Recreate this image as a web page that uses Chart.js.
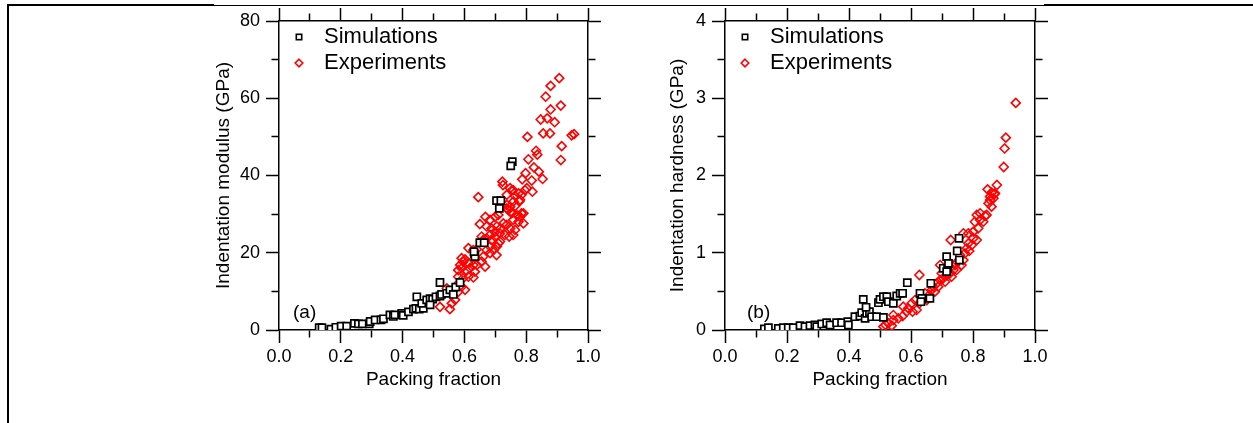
<!DOCTYPE html>
<html lang="en">
<head>
    <meta charset="UTF-8">
    <title>Indentation modulus and hardness vs packing fraction</title>
    <script src="https://cdn.jsdelivr.net/npm/chart.js"></script>
    <style>
        body { margin: 0; background: #fff; width: 1253px; height: 423px; overflow: hidden; position: relative; }
        .line { position: absolute; background: #000; }
        canvas { position: absolute; top: 0; }
        #chartA { left: 200px; }
        #chartB { left: 646px; }
    </style>
</head>
<body>
    <div class="line" style="left:7px; top:4px; width:2px; height:419px;"></div>
    <div class="line" style="left:7px; top:4px; width:207px; height:2px;"></div>
    <div class="line" style="left:214px; top:5px; width:830px; height:1px;"></div>
    <div class="line" style="left:1044px; top:4px; width:209px; height:2px;"></div>

    <canvas id="chartA" width="420" height="400"></canvas>
    <canvas id="chartB" width="420" height="400"></canvas>

    <script>
        // packing fraction / indentation modulus (GPa)
        const modulusSimulations = [
            [0.130,0.6],[0.139,0.6],[0.168,0.2],[0.184,0.7],[0.201,1.0],[0.219,1.0],[0.244,1.7],[0.257,1.6],
            [0.270,1.6],[0.292,1.6],[0.295,2.2],[0.311,2.6],[0.330,2.6],[0.338,2.9],[0.359,3.9],[0.370,3.5],
            [0.375,3.9],[0.397,4.3],[0.402,3.8],[0.419,4.7],[0.435,5.4],[0.443,5.6],[0.454,5.4],[0.467,5.6],
            [0.446,8.6],[0.462,6.9],[0.478,7.8],[0.489,8.1],[0.497,8.0],[0.508,8.6],[0.489,6.5],[0.521,8.8],
            [0.526,9.2],[0.543,9.5],[0.553,10.4],[0.564,9.2],[0.572,11.1],[0.586,12.3],[0.521,12.3],
            [0.632,19.7],[0.634,19.0],[0.631,20.3],[0.650,22.6],[0.664,22.6],[0.704,33.5],[0.718,33.5],
            [0.713,31.5],[0.755,43.6],[0.750,42.5]
        ];
        const modulusExperiments = [
            [0.907,65.2],[0.879,63.2],[0.863,60.4],[0.912,58.1],[0.879,57.1],[0.847,54.5],[0.868,54.8],[0.892,53.8],
            [0.804,50.0],[0.855,50.9],[0.877,50.9],[0.947,50.4],[0.955,50.7],[0.915,47.6],[0.912,44.0],[0.832,46.4],
            [0.836,45.4],[0.807,44.2],[0.825,42.1],[0.841,41.0],[0.798,40.6],[0.853,39.1],[0.787,39.0],[0.818,38.7],
            [0.802,36.7],[0.820,35.8],[0.723,38.4],[0.725,37.5],[0.748,36.7],[0.753,36.1],[0.737,35.0],[0.764,34.7],
            [0.785,35.0],[0.645,34.4],[0.759,33.3],[0.778,33.3],[0.737,32.4],[0.764,32.1],[0.748,31.9],[0.796,36.2],
            [0.780,33.7],[0.775,35.4],[0.758,36.2],[0.742,31.1],[0.753,30.2],[0.769,29.8],[0.780,29.3],[0.791,30.2],
            [0.758,28.5],[0.775,28.0],[0.791,27.6],[0.737,27.2],[0.748,26.3],[0.764,25.9],[0.758,24.6],[0.699,25.4],
            [0.715,25.0],[0.731,24.6],[0.672,26.8],[0.688,26.3],[0.705,26.8],[0.717,26.3],[0.726,27.6],[0.668,29.3],
            [0.683,28.5],[0.699,29.3],[0.710,29.8],[0.650,27.4],[0.656,24.2],[0.672,23.7],[0.688,23.3],[0.683,24.6],
            [0.699,24.2],[0.672,20.7],[0.683,19.9],[0.694,20.7],[0.705,21.6],[0.710,22.4],[0.661,19.0],[0.656,17.7],
            [0.737,31.5],[0.753,30.6],[0.785,30.2],[0.745,24.2],[0.715,22.9],[0.661,23.3],[0.704,19.4],[0.640,16.8],
            [0.667,16.4],[0.683,21.6],[0.613,21.2],[0.629,20.7],[0.640,20.9],[0.591,18.6],[0.602,18.3],[0.586,16.8],
            [0.596,17.7],[0.613,17.3],[0.629,16.8],[0.580,15.5],[0.591,16.0],[0.607,15.4],[0.618,16.0],[0.634,15.1],
            [0.580,13.8],[0.596,13.4],[0.613,13.8],[0.629,13.6],[0.575,11.6],[0.591,11.2],[0.602,10.4],[0.564,10.4],
            [0.580,9.9],[0.543,10.8],[0.570,7.8],[0.559,6.9],[0.553,5.4],[0.521,6.0]
        ];

        // packing fraction / indentation hardness (GPa)
        const hardnessSimulations = [
            [0.127,0.013],[0.140,0.030],[0.172,0.020],[0.188,0.030],[0.204,0.030],[0.220,0.030],[0.242,0.056],
            [0.258,0.043],[0.274,0.056],[0.290,0.065],[0.296,0.043],[0.312,0.078],[0.328,0.094],[0.339,0.065],
            [0.360,0.094],[0.376,0.094],[0.396,0.107],[0.398,0.065],[0.419,0.172],[0.435,0.181],[0.441,0.224],
            [0.452,0.151],[0.457,0.216],[0.466,0.237],[0.473,0.172],[0.489,0.172],[0.511,0.164],[0.446,0.397],
            [0.455,0.294],[0.495,0.353],[0.500,0.397],[0.511,0.431],[0.522,0.431],[0.527,0.366],[0.543,0.346],
            [0.554,0.440],[0.565,0.475],[0.573,0.475],[0.588,0.612],[0.629,0.475],[0.635,0.410],[0.632,0.366],
            [0.661,0.410],[0.664,0.605],[0.704,0.799],[0.718,0.799],[0.715,0.949],[0.721,0.863],[0.715,0.755],
            [0.749,1.023],[0.756,0.906],[0.755,1.187]
        ];
        const hardnessExperiments = [
            [0.511,0.043],[0.518,0.065],[0.527,0.087],[0.543,0.129],[0.538,0.056],[0.543,0.194],[0.559,0.151],
            [0.573,0.181],[0.575,0.302],[0.586,0.237],[0.591,0.281],[0.602,0.346],[0.605,0.237],[0.618,0.259],
            [0.613,0.388],[0.627,0.346],[0.627,0.712],[0.634,0.431],[0.645,0.475],[0.651,0.388],[0.659,0.453],
            [0.667,0.518],[0.677,0.496],[0.672,0.561],[0.683,0.605],[0.688,0.561],[0.694,0.647],[0.694,0.841],
            [0.699,0.734],[0.704,0.669],[0.710,0.625],[0.715,0.712],[0.726,0.734],[0.731,0.690],[0.737,0.777],
            [0.742,0.841],[0.747,0.777],[0.749,0.884],[0.763,0.841],[0.769,0.906],[0.758,0.971],[0.774,0.993],
            [0.788,1.023],[0.780,1.058],[0.796,1.100],[0.785,1.122],[0.801,1.187],[0.812,1.165],[0.769,1.252],
            [0.785,1.252],[0.801,1.273],[0.817,1.317],[0.728,1.165],[0.806,1.402],[0.823,1.424],[0.833,1.402],
            [0.839,1.476],[0.812,1.489],[0.823,1.511],[0.844,1.489],[0.850,1.640],[0.860,1.597],[0.855,1.683],
            [0.866,1.705],[0.871,1.770],[0.860,1.778],[0.847,1.821],[0.877,1.877],[0.869,1.760],[0.855,1.726],
            [0.899,2.110],[0.902,2.350],[0.906,2.490],[0.938,2.940]
        ];

        const legendLabels = ['Simulations', 'Experiments'];
        const xTitle = 'Packing fraction';

        const FONT = '"Liberation Sans", Arial, Helvetica, sans-serif';

        // draws the in-plot legend and the panel tag, e.g. "(a)"
        const panelDecor = {
            id: 'panelDecor',
            afterDraw(chart, args, opts) {
                const { ctx, chartArea } = chart;
                ctx.save();
                const mx = chartArea.left + 20;
                const tx = chartArea.left + 45;
                const ys = [chartArea.top + 16, chartArea.top + 42];
                ctx.lineWidth = 1.6;
                // square
                ctx.strokeStyle = '#000';
                ctx.strokeRect(mx - 2.7, ys[0] - 2.7, 5.4, 5.4);
                // diamond
                ctx.strokeStyle = '#ff0000';
                ctx.beginPath();
                ctx.moveTo(mx, ys[1] - 3.8);
                ctx.lineTo(mx + 3.8, ys[1]);
                ctx.lineTo(mx, ys[1] + 3.8);
                ctx.lineTo(mx - 3.8, ys[1]);
                ctx.closePath();
                ctx.stroke();

                ctx.fillStyle = '#000';
                ctx.font = '22px ' + FONT;
                ctx.textBaseline = 'middle';
                ctx.textAlign = 'left';
                ctx.fillText(legendLabels[0], tx, ys[0]);
                ctx.fillText(legendLabels[1], tx, ys[1]);

                ctx.font = '19px ' + FONT;
                ctx.fillText(opts.tag, chartArea.left + opts.tagDx, chartArea.bottom - 17);
                ctx.restore();
            }
        };

        function isMinor(value, step) {
            return Math.round(value / step) % 2 !== 0;
        }

        function axis(position, opts) {
            const outward = position === 'bottom' || position === 'right';
            // minor ticks are the first 7px from the axis line
            const minorDash = outward ? [7, 50] : [0, 5.5, 7, 50];
            return {
                type: 'linear',
                position: position,
                min: opts.min,
                max: opts.max,
                afterFit: (scale) => {
                    if (position === 'left' || position === 'right') scale.width = opts.size;
                    else scale.height = opts.size;
                },
                border: { display: true, color: '#000', width: 1.5 },
                grid: {
                    drawOnChartArea: false,
                    drawTicks: true,
                    tickLength: 13,
                    tickWidth: 1.5,
                    tickColor: '#000',
                    tickBorderDash: (ctx) => (ctx.tick && isMinor(ctx.tick.value, opts.step)) ? minorDash : []
                },
                ticks: {
                    display: !!opts.labels,
                    stepSize: opts.step,
                    autoSkip: false,
                    maxRotation: 0,
                    padding: opts.pad || 3,
                    color: '#000',
                    font: { family: FONT, size: 18 },
                    callback: (v) => isMinor(v, opts.step) ? '' : opts.format(v)
                },
                title: opts.title ? {
                    display: true,
                    text: opts.title,
                    color: '#000',
                    font: { family: FONT, size: 19 },
                    padding: opts.titlePad
                } : { display: false }
            };
        }

        function makePanel(id, sims, exps, yMax, yStep, yFormat, yTitle, leftW, rightW, yTitlePad, tag, tagDx) {
            const fx = (v) => v.toFixed(1);
            return new Chart(id, {
                type: 'scatter',
                data: {
                    datasets: [
                        {
                            label: legendLabels[0],
                            data: sims.map(p => ({ x: p[0], y: p[1] })),
                            pointStyle: 'rect',
                            pointRadius: 5,
                            borderWidth: 1.7,
                            borderColor: '#000',
                            backgroundColor: '#fff'
                        },
                        {
                            label: legendLabels[1],
                            data: exps.map(p => ({ x: p[0], y: p[1] })),
                            pointStyle: 'rectRot',
                            pointRadius: 4.5,
                            borderWidth: 1.6,
                            borderColor: '#ff0000',
                            backgroundColor: 'rgba(255,255,255,0)'
                        }
                    ]
                },
                options: {
                    responsive: false,
                    animation: false,
                    layout: { padding: 0 },
                    plugins: {
                        legend: { display: false },
                        tooltip: { enabled: false },
                        panelDecor: { tag: tag, tagDx: tagDx }
                    },
                    scales: {
                        x: axis('bottom', { min: 0, max: 1, step: 0.1, labels: true, format: fx, size: 70,
                                            title: xTitle, titlePad: { top: 0, bottom: 8.6 } }),
                        x2: axis('top', { min: 0, max: 1, step: 0.1, labels: false, format: fx, size: 21 }),
                        y: axis('left', { min: 0, max: yMax, step: yStep, labels: true, format: yFormat, size: leftW,
                                          pad: 6, title: yTitle, titlePad: { top: yTitlePad, bottom: 0 } }),
                        y2: axis('right', { min: 0, max: yMax, step: yStep, labels: false, format: yFormat, size: rightW })
                    }
                },
                plugins: [panelDecor]
            });
        }

        makePanel('chartA', modulusSimulations, modulusExperiments, 80, 10, (v) => String(v),
                  'Indentation modulus (GPa)', 79, 32, 12.6, '(a)', 14);
        makePanel('chartB', hardnessSimulations, hardnessExperiments, 4, 0.5, (v) => String(v),
                  'Indentation hardness (GPa)', 79, 31, 20.6, '(b)', 22);
    </script>
</body>
</html>
